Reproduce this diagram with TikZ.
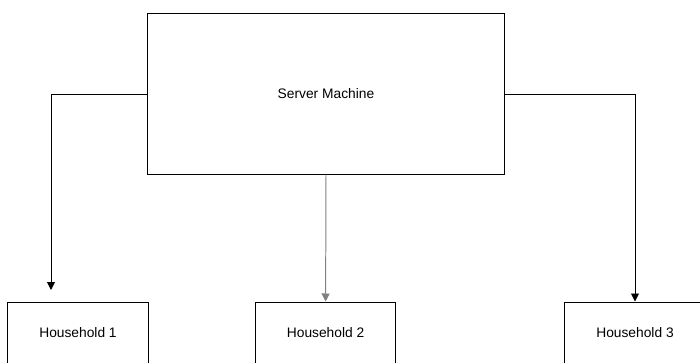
\documentclass[tikz,border=0pt]{standalone}
\usepackage{fontspec}
\setmainfont{Liberation Sans}
\usetikzlibrary{arrows.meta}
\tikzset{
  box/.style={draw, line width=0.7pt, inner sep=0pt, font=\fontsize{9.8}{11}\selectfont},
  link/.style={line width=0.7pt, -{Triangle[width=0.2cm,length=0.2cm]}}
}
\begin{document}
\begin{tikzpicture}[x=0.025cm,y=-0.025cm]
     \useasboundingbox (0,0) rectangle (700,363);
     \clip (0,0) rectangle (700,363);
     \node [box, minimum width=8.9cm, minimum height=4cm] (server) at (326,94) {Server Machine};
     \node [box, minimum width=3.5cm, minimum height=1.55cm] (house1) at (78,333) {Household 1};
     \node [box, minimum width=3.5cm, minimum height=1.55cm] (house2) at (325.6,333) {Household 2};
     \node [box, minimum width=3.5cm, minimum height=1.55cm] (house3) at (635,333) {Household 3};
     % the left line stops short of its box
     \coordinate (end1) at (51,290);
     \draw [link] (server.west) -| (end1);
     \draw [link, color=gray] (server.south) -- (house2.north);
     \draw [link] (server.east) -| (house3.north);
\end{tikzpicture}
\end{document}
